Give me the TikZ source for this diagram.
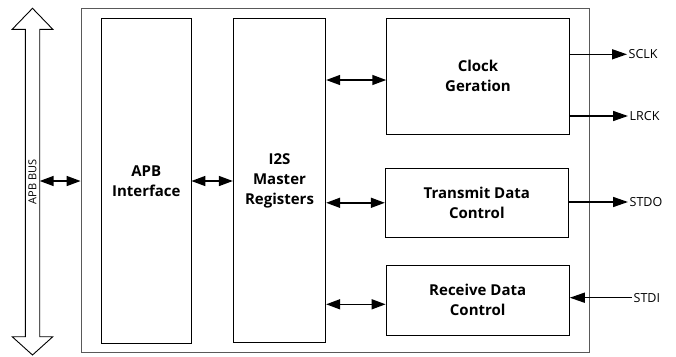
\documentclass[tikz,border=0pt]{standalone}
\usepackage{fontspec}
\setmainfont{Open Sans}
\usepackage{xcolor}
\usetikzlibrary{arrows.meta}

\begin{document}
\begin{tikzpicture}[x=1pt, y=-1pt, align=center,
            blk/.style={draw=black, line width=0.9pt, font=\fontsize{15}{20}\selectfont\bfseries},
            sig/.style={line width=1.5pt, -{Triangle[length=15pt,width=10pt]}},
            bidir/.style={line width=1.5pt, {Triangle[length=14pt,width=10pt]}-{Triangle[length=14pt,width=10pt]}},
            pinlbl/.style={font=\fontsize{12.5}{14}\selectfont, inner sep=1.5pt}]
            \useasboundingbox (0,0) rectangle (676,356);
            \draw [line width=0.9pt] (32.5,8.3) -- (52.8,29.3) -- (39.7,29.3) -- (39.7,336.7) -- (52.8,336.7)
                  -- (32.5,355) -- (12.2,336.7) -- (25.3,336.7) -- (25.3,29.3) -- (12.2,29.3) -- cycle;
            \node [rotate=90, inner sep=0pt, font=\fontsize{11}{12}\selectfont] (bus) at (32.5,181.7) {APB BUS};
            \coordinate (busR) at (39.7,181);
            \node [draw=black!65, line width=0.9pt, minimum width=508.3pt, minimum height=344.4pt] (chip) at (335.2,180.5) {};
            \node [blk, minimum width=89.3pt, minimum height=325pt] (apb) at (146.3,180.8) {APB\\Interface};
            \node [blk, minimum width=92.4pt, minimum height=324.4pt] (reg) at (279.5,180.5) {I2S\\Master\\Registers};
            \node [blk, minimum width=182.6pt, minimum height=116pt] (clk) at (478,76.3) {Clock\\Geration};
            \node [blk, minimum width=183pt, minimum height=69pt] (tx) at (476.8,202.8) {Transmit Data\\Control};
            \node [blk, minimum width=183.3pt, minimum height=70pt] (rx) at (477.7,300) {Receive Data\\Control};
            \node [pinlbl, anchor=west] (sclk) at (627,54.3) {SCLK};
            \node [pinlbl, anchor=west] (lrck) at (628,116) {LRCK};
            \node [pinlbl, anchor=west] (stdo) at (628,202) {STDO};
            \node [pinlbl, anchor=west] (stdi) at (632,297.7) {STDI};
            \draw [bidir] (busR) -- (chip.west |- busR);
            \draw [bidir] (apb.east |- busR) -- (reg.west |- busR);
            \draw [bidir] ([yshift=-3.7pt]reg.east |- clk.west) -- ([yshift=-3.7pt]clk.west);
            \draw [bidir] (reg.east |- tx.west) -- (tx.west);
            \draw [bidir] ([yshift=-4.3pt]reg.east |- rx.west) -- ([yshift=-4.3pt]rx.west);
            \draw [sig] (clk.east |- sclk.west) -- (sclk.west);
            \draw [sig] (clk.east |- lrck.west) -- (lrck.west);
            \draw [sig] (tx.east |- stdo.west) -- (stdo.west);
            \draw [sig] (stdi.west) -- (rx.east |- stdi.west);
\end{tikzpicture}
\end{document}
